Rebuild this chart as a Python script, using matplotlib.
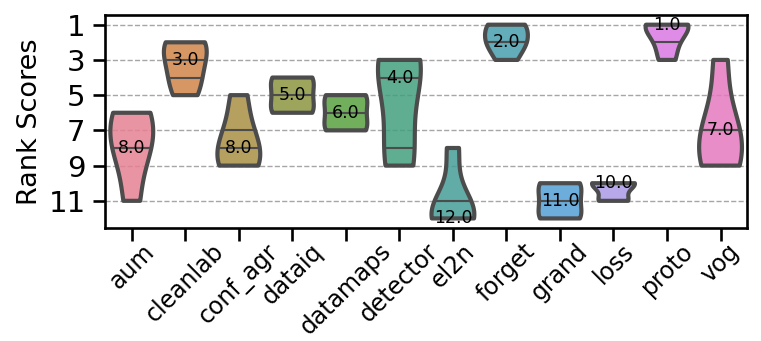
import numpy as np
import matplotlib
matplotlib.use("Agg")
import matplotlib.pyplot as plt

# rank of each method over the five runs
methods = ['aum', 'cleanlab', 'conf_agr', 'dataiq', 'datamaps', 'detector',
           'el2n', 'forget', 'grand', 'loss', 'proto', 'vog']
aum = [6, 6, 8, 8, 11]
cleanlab = [2, 2, 3, 4, 5]
conf_agr = [5, 7, 8, 9, 9]
dataiq = [4, 4, 5, 6, 6]
datamaps = [5, 5, 6, 7, 7]
detector = [3, 3, 4, 8, 9]
el2n = [8, 11, 12, 12, 12]
forget = [1, 1, 2, 2, 3]
grand = [10, 10, 11, 12, 12]
loss = [10, 10, 10, 11, 11]
proto = [1, 1, 1, 2, 3]
vog = [3, 7, 7, 9, 9]
ranks = [aum, cleanlab, conf_agr, dataiq, datamaps, detector,
         el2n, forget, grand, loss, proto, vog]

colors = ['#e68193', '#d08549', '#aa8f43', '#8c9540', '#58a141', '#43a07f',
          '#459e97', '#489eae', '#529fd6', '#ab99e7', '#d978e2', '#e479bd']
edge = '#4c4c4c'


def kde(obs, grid):
    obs = np.asarray(obs, float)
    bw = obs.std(ddof=1) * len(obs) ** (-1 / 5)
    z = (grid[:, None] - obs[None, :]) / bw
    return np.exp(-0.5 * z ** 2).sum(axis=1)


fig = plt.figure(figsize=(7.61, 3.41), dpi=100)
ax = fig.add_axes([0.138, 0.331, 0.844, 0.625])

for i, (obs, c) in enumerate(zip(ranks, colors)):
    grid = np.linspace(min(obs), max(obs), 100)
    dens = kde(obs, grid)
    hw = 0.4 * dens / dens.max()
    xs = np.concatenate([i - hw, (i + hw)[::-1]])
    ys = np.concatenate([grid, grid[::-1]])
    face = matplotlib.colors.to_rgba(c, 0.85)
    ax.fill(xs, ys, facecolor=face, edgecolor=edge, lw=3, joinstyle='round', zorder=2)
    for q in np.percentile(obs, [25, 50, 75]):
        w = np.interp(q, grid, hw)
        ax.plot([i - w, i + w], [q, q], color=edge, lw=1.5, zorder=3)
    med = np.median(obs)
    ax.text(i, med, f"{med:.1f}", ha='center', va='center', fontsize=12.5, zorder=4)

ax.set_xlim(-0.5, len(methods) - 0.5)
ax.set_ylim(12.55, 0.45)
ax.set_yticks([1, 3, 5, 7, 9, 11])
ax.set_xticks(range(len(methods)))
ax.set_xticklabels(methods, rotation=45)
ax.yaxis.grid(True, linestyle='--', color='gray', alpha=0.7, lw=1)
ax.set_axisbelow(True)
ax.tick_params(axis='both', length=9, width=1.9, pad=5)
ax.tick_params(axis='y', labelsize=21)
ax.tick_params(axis='x', labelsize=17, pad=-1)
for s in ax.spines.values():
    s.set_linewidth(1.9)
ax.set_ylabel('Rank Scores', fontsize=19.5, labelpad=4)

fig.savefig('out.png')
